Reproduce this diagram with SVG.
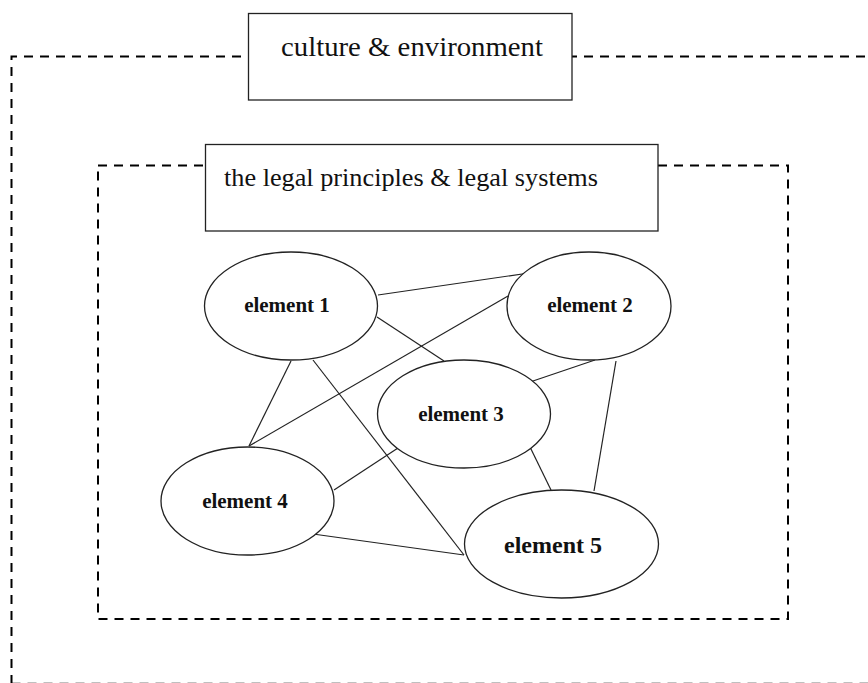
<svg xmlns="http://www.w3.org/2000/svg" width="868" height="683" viewBox="0 0 868 683">
  <style>
    .frame { fill: none; stroke: #000; stroke-width: 2; stroke-dasharray: 9 7; }
    .box { fill: #fff; stroke: #222; stroke-width: 1.3; }
    .title { font-family: "Liberation Serif", "Times New Roman", serif; fill: #111; }
    .node ellipse { fill: #fff; stroke: #222; stroke-width: 1.3; }
    .node text { font-family: "Liberation Serif", "Times New Roman", serif; font-weight: bold; fill: #111; text-anchor: middle; }
    #connectors line { stroke: #222; stroke-width: 1.2; }
  </style>
  <rect width="868" height="683" fill="#fff"/>

  <!-- outer boundary: culture & environment -->
  <path class="frame" d="M 11.5 700 L 11.5 56.5 L 880 56.5 M 11.5 683.8 L 880 683.8"/>
  <g id="culture">
    <rect class="box" x="248.5" y="13.5" width="323.5" height="86.5"/>
    <text class="title" x="281" y="56" font-size="28" textLength="262" lengthAdjust="spacingAndGlyphs">culture &amp; environment</text>
  </g>

  <!-- inner boundary: legal principles & systems -->
  <rect class="frame" x="98" y="165.5" width="690" height="453.5"/>
  <g id="legal">
    <rect class="box" x="205.5" y="144.5" width="452.5" height="86.5"/>
    <text class="title" x="224" y="186" font-size="26" textLength="374" lengthAdjust="spacingAndGlyphs">the legal principles &amp; legal systems</text>
  </g>

  <g id="connectors">
    <line x1="378" y1="295" x2="529" y2="273"/>
    <line x1="377" y1="317" x2="444" y2="361"/>
    <line x1="508" y1="296" x2="249" y2="446"/>
    <line x1="291" y1="361" x2="249" y2="446"/>
    <line x1="313" y1="360" x2="464" y2="555"/>
    <line x1="595" y1="360" x2="530" y2="382"/>
    <line x1="616" y1="361" x2="594" y2="491"/>
    <line x1="398" y1="448" x2="334" y2="490"/>
    <line x1="530" y1="447" x2="551" y2="490"/>
    <line x1="313" y1="534" x2="464" y2="555"/>
  </g>

  <g id="element1" class="node">
    <ellipse cx="291" cy="306" rx="86.5" ry="54"/>
    <text x="287" y="312" font-size="21">element 1</text>
  </g>
  <g id="element2" class="node">
    <ellipse cx="589" cy="306" rx="82" ry="54"/>
    <text x="590" y="312" font-size="21">element 2</text>
  </g>
  <g id="element3" class="node">
    <ellipse cx="464" cy="414" rx="86.5" ry="54"/>
    <text x="461" y="421" font-size="21">element 3</text>
  </g>
  <g id="element4" class="node">
    <ellipse cx="247.5" cy="501" rx="86.5" ry="54"/>
    <text x="245" y="508" font-size="21">element 4</text>
  </g>
  <g id="element5" class="node">
    <ellipse cx="561.5" cy="544" rx="97" ry="54"/>
    <text x="553" y="553" font-size="24">element 5</text>
  </g>
</svg>
